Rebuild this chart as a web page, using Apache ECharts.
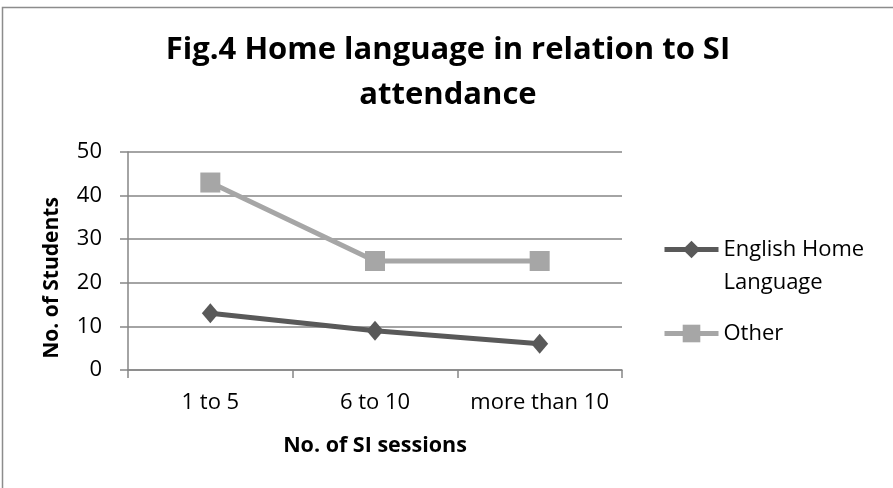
<!DOCTYPE html>
<html><head><meta charset="utf-8">
<script src="https://cdn.jsdelivr.net/npm/echarts@6/dist/echarts.min.js"></script>
<style>html,body{margin:0;padding:0;background:#fff}#c{width:893px;height:488px}</style>
</head><body><div id="c"></div>
<script>
const categories = ['1 to 5', '6 to 10', 'more than 10'];
const englishHome = [13, 9, 6];
const other = [43, 25, 25];
const yTicks = [0, 10, 20, 30, 40, 50];
const seriesNames = ['English Home Language', 'Other'];

const FONT = '"Open Sans"';
const chart = echarts.init(document.getElementById('c'), null, {renderer: 'canvas'});
chart.setOption({
  animation: false,
  backgroundColor: '#fff',
  title: {
    text: 'Fig.4 Home language in relation to SI\nattendance',
    left: 448, textAlign: 'center', top: 28, padding: 0,
    textStyle: {fontFamily: FONT, fontWeight: 'bold', fontSize: 31, color: '#000', lineHeight: 45}
  },
  graphic: [{
    type: 'rect', shape: {x: 2.5, y: 7.5, width: 1000, height: 1000},
    style: {fill: 'none', stroke: '#8c8c8c', lineWidth: 1.5}, silent: true
  }],
  legend: {
    orient: 'vertical', left: 662, top: 200, padding: 0,
    itemWidth: 54, itemHeight: 22, itemGap: 18,
    lineStyle: {width: 5},
    formatter: function (name) {
      // leading blank line keeps the marker level with the first text line
      return name === seriesNames[0] ? '\n' + name : name;
    },
    textStyle: {fontFamily: FONT, fontSize: 22, color: '#000', width: 160, overflow: 'break', lineHeight: 33},
    data: seriesNames
  },
  grid: {left: 128, right: 271, top: 152, bottom: 118},
  xAxis: {
    type: 'category', data: categories, boundaryGap: true,
    name: 'No. of SI sessions', nameLocation: 'middle', nameGap: 65,
    nameTextStyle: {fontFamily: FONT, fontWeight: 'bold', fontSize: 21.5, color: '#000'},
    axisLine: {lineStyle: {color: '#868686', width: 1.5}},
    axisTick: {show: true, length: 8, alignWithLabel: false, lineStyle: {color: '#868686', width: 1.5}},
    axisLabel: {fontFamily: FONT, fontSize: 22, color: '#000', margin: 22, interval: 0}
  },
  yAxis: {
    type: 'value', min: yTicks[0], max: yTicks[yTicks.length - 1], interval: 10,
    name: 'No. of Students', nameLocation: 'middle', nameGap: 65,
    nameTextStyle: {fontFamily: FONT, fontWeight: 'bold', fontSize: 21, color: '#000', padding: [0, 34, 0, 0]},
    axisLine: {show: true, lineStyle: {color: '#868686', width: 1.5}},
    axisTick: {show: true, length: 8, lineStyle: {color: '#868686', width: 1.5}},
    axisLabel: {fontFamily: FONT, fontSize: 22, color: '#000', margin: 26},
    splitLine: {lineStyle: {color: '#868686', width: 1.5}}
  },
  series: [{
    name: seriesNames[0], type: 'line', data: englishHome,
    symbol: 'diamond', symbolSize: [17, 20], color: '#595959',
    lineStyle: {width: 5, color: '#595959'}, itemStyle: {color: '#595959'}, z: 3
  }, {
    name: seriesNames[1], type: 'line', data: other,
    symbol: 'rect', symbolSize: 20, color: '#a6a6a6',
    lineStyle: {width: 5, color: '#a6a6a6'}, itemStyle: {color: '#a6a6a6'}, z: 2
  }]
});
</script></body></html>
